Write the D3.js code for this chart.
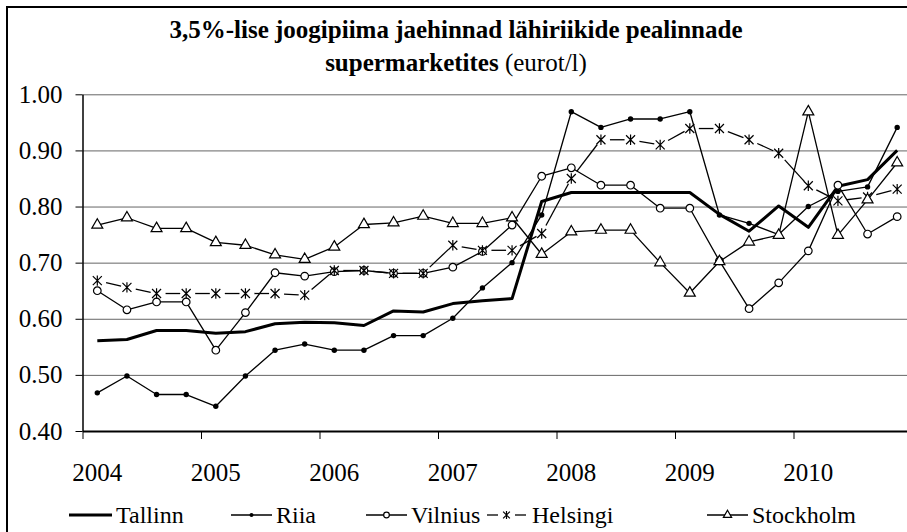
<!DOCTYPE html>
<html>
<head>
<meta charset="utf-8">
<script src="https://cdn.jsdelivr.net/npm/d3@7"></script>
<style>
  body { margin: 0; background: #fff; }
</style>
</head>
<body>
<svg id="chart" width="907" height="532"></svg>
<script>
// years on the axis, four quarters each
const years = ["2004", "2005", "2006", "2007", "2008", "2009", "2010"];
const quarters = years.flatMap(y => ["I", "II", "III", "IV"].map(q => y + " " + q));
const yTicks = [0.40, 0.50, 0.60, 0.70, 0.80, 0.90, 1.00];

// prices, eurot/l
const tallinn = [0.561, 0.563, 0.579, 0.579, 0.574, 0.577, 0.591, 0.594, 0.593, 0.588, 0.614, 0.612, 0.627, 0.632,
  0.636, 0.809, 0.825, 0.825, 0.825, 0.825, 0.825, 0.786, 0.756, 0.801, 0.763, 0.836, 0.848, 0.900];
const riia = [0.468, 0.498, 0.465, 0.465, 0.444, 0.498, 0.544, 0.555, 0.544, 0.544, 0.570, 0.570, 0.601, 0.655,
  0.700, 0.785, 0.969, 0.941, 0.956, 0.956, 0.969, 0.785, 0.770, 0.750, 0.800, 0.827, 0.835, 0.941];
const vilnius = [0.650, 0.616, 0.630, 0.630, 0.544, 0.611, 0.682, 0.676, 0.684, 0.686, 0.681, 0.681, 0.692, 0.720,
  0.767, 0.854, 0.869, 0.838, 0.838, 0.797, 0.797, 0.703, 0.618, 0.664, 0.721, 0.838, 0.751, 0.782];
const helsingi = [0.668, 0.656, 0.645, 0.645, 0.645, 0.645, 0.645, 0.642, 0.686, 0.686, 0.681, 0.681, 0.731, 0.722,
  0.722, 0.752, 0.850, 0.919, 0.919, 0.910, 0.939, 0.939, 0.919, 0.895, 0.837, 0.810, 0.817, 0.831];
const stockholm = [0.767, 0.780, 0.761, 0.761, 0.736, 0.731, 0.714, 0.706, 0.728, 0.768, 0.771, 0.783, 0.770, 0.770,
  0.780, 0.715, 0.755, 0.758, 0.758, 0.700, 0.646, 0.702, 0.737, 0.749, 0.969, 0.749, 0.812, 0.878];

const series = [
  { name: "Tallinn", values: tallinn, marker: "none", lw: 3 },
  { name: "Riia", values: riia, marker: "dot", lw: 1.3 },
  { name: "Vilnius", values: vilnius, marker: "circle", lw: 1.3 },
  { name: "Helsingi", values: helsingi, marker: "star", lw: 1.3, dashed: true },
  { name: "Stockholm", values: stockholm, marker: "triangle", lw: 1.3 }
];

const FONT = "'Liberation Serif', 'Times New Roman', 'DejaVu Serif', serif";
const svg = d3.select("#chart");
const plotLeft = 82.5, plotRight = 912, plotTop = 94.3, plotBottom = 431;

const x = d3.scaleBand().domain(quarters).range([plotLeft, plotRight]).padding(0);
const cx = q => x(q) + x.bandwidth() / 2;
const y = d3.scaleLinear().domain([0.4, 1.0]).range([plotBottom, plotTop]);
const yearX = d3.scaleLinear().domain([2004, 2011]).range([plotLeft, plotRight]);

// outer frame
svg.append("rect")
  .attr("x", 7).attr("y", 7).attr("width", 930).attr("height", 540)
  .attr("fill", "none").attr("stroke", "#000").attr("stroke-width", 2);

// title
const title = svg.append("g").attr("text-anchor", "middle");
title.append("text")
  .attr("x", 456).attr("y", 38)
  .style("font-family", FONT).style("font-size", "25px").style("font-weight", "bold")
  .text("3,5%-lise joogipiima jaehinnad lähiriikide pealinnade");
const t2 = title.append("text").attr("x", 456).attr("y", 71)
  .style("font-family", FONT).style("font-size", "25px");
t2.append("tspan").style("font-weight", "bold").text("supermarketites");
t2.append("tspan").text(" (eurot/l)");

// gridlines
svg.append("g")
  .attr("transform", `translate(${plotLeft},0)`)
  .call(d3.axisLeft(y).tickValues(yTicks.slice(1)).tickSize(-(plotRight - plotLeft)).tickFormat(""))
  .call(g => g.select(".domain").remove())
  .call(g => g.selectAll("line").attr("stroke", "#666").attr("stroke-width", 1));

// y axis
svg.append("g")
  .attr("transform", `translate(${plotLeft},0)`)
  .call(d3.axisLeft(y).tickValues(yTicks).tickFormat(d3.format(".2f")).tickSize(7).tickSizeOuter(0).tickPadding(13))
  .call(g => g.select(".domain").attr("stroke-width", 1.5))
  .call(g => g.selectAll("text").style("font-family", FONT).style("font-size", "25px"));

// x axis: ticks at year boundaries, labels on first quarter
svg.append("g")
  .attr("transform", `translate(0,${plotBottom})`)
  .call(d3.axisBottom(yearX).tickValues(d3.range(2004, 2012)).tickFormat("").tickSize(8).tickSizeOuter(0))
  .call(g => g.select(".domain").attr("stroke-width", 2));

svg.append("g")
  .attr("transform", `translate(0,${plotBottom})`)
  .call(d3.axisBottom(x).tickValues(quarters.filter((q, i) => i % 4 === 0)).tickFormat(q => q.slice(0, 4)).tickSize(0).tickPadding(32))
  .call(g => g.select(".domain").remove())
  .call(g => g.selectAll("text").style("font-family", FONT).style("font-size", "25px"));

// markers
const starPath = r => `M${-r},${-r}L${r},${r}M${-r},${r}L${r},${-r}M0,${-r * 1.15}L0,${r * 1.15}`;
function drawMarker(g, type, scale) {
  const k = scale || 1;
  if (type === "dot") {
    g.append("circle").attr("r", 2.7 * k).attr("fill", "#000");
  } else if (type === "circle") {
    g.append("circle").attr("r", 3.8 * k).attr("fill", "#fff").attr("stroke", "#000").attr("stroke-width", 1.2);
  } else if (type === "triangle") {
    g.append("path").attr("d", d3.symbol(d3.symbolTriangle, 52 * k * k)())
      .attr("fill", "#fff").attr("stroke", "#000").attr("stroke-width", 1.2);
  } else if (type === "star") {
    g.append("path").attr("d", starPath(4.5 * k)).attr("fill", "none").attr("stroke", "#000").attr("stroke-width", 1.2);
  }
}

const plot = svg.append("g");
series.forEach(s => {
  const pts = s.values.map((v, i) => [cx(quarters[i]), y(v)]);
  const g = plot.append("g").attr("class", "series");
  if (s.dashed) {
    // dashed look: one dash per segment, gaps round the markers
    d3.pairs(pts).forEach(([a, b]) => {
      const dx = b[0] - a[0], dy = b[1] - a[1], len = Math.hypot(dx, dy);
      const ux = dx / len, uy = dy / len;
      if (len < 18) return;
      g.append("line")
        .attr("x1", a[0] + ux * 9).attr("y1", a[1] + uy * 9)
        .attr("x2", b[0] - ux * 6).attr("y2", b[1] - uy * 6)
        .attr("stroke", "#000").attr("stroke-width", s.lw);
    });
  } else {
    g.append("path")
      .attr("d", d3.line()(pts))
      .attr("fill", "none").attr("stroke", "#000").attr("stroke-width", s.lw)
      .attr("stroke-linejoin", "round");
  }
  pts.forEach(p => drawMarker(g.append("g").attr("transform", `translate(${p[0]},${p[1]})`), s.marker));
});

// legend
const legendPos = [69, 231, 366, 487, 707];
const legendY = 515;
series.forEach((s, i) => {
  const g = svg.append("g").attr("transform", `translate(${legendPos[i]},${legendY})`);
  if (s.dashed) {
    g.append("line").attr("x1", 0).attr("x2", 11).attr("stroke", "#000").attr("stroke-width", s.lw);
    g.append("line").attr("x1", 28).attr("x2", 39).attr("stroke", "#000").attr("stroke-width", s.lw);
  } else {
    g.append("line").attr("x1", 0).attr("x2", s.name === "Tallinn" ? 43 : 41).attr("stroke", "#000").attr("stroke-width", s.lw);
  }
  drawMarker(g.append("g").attr("transform", `translate(${s.dashed ? 19.5 : 20.5},0)`), s.marker, 0.75);
  g.append("text").attr("x", s.name === "Tallinn" ? 47 : 45).attr("y", 8)
    .style("font-family", FONT).style("font-size", "24px").text(s.name);
});
</script>
</body>
</html>
